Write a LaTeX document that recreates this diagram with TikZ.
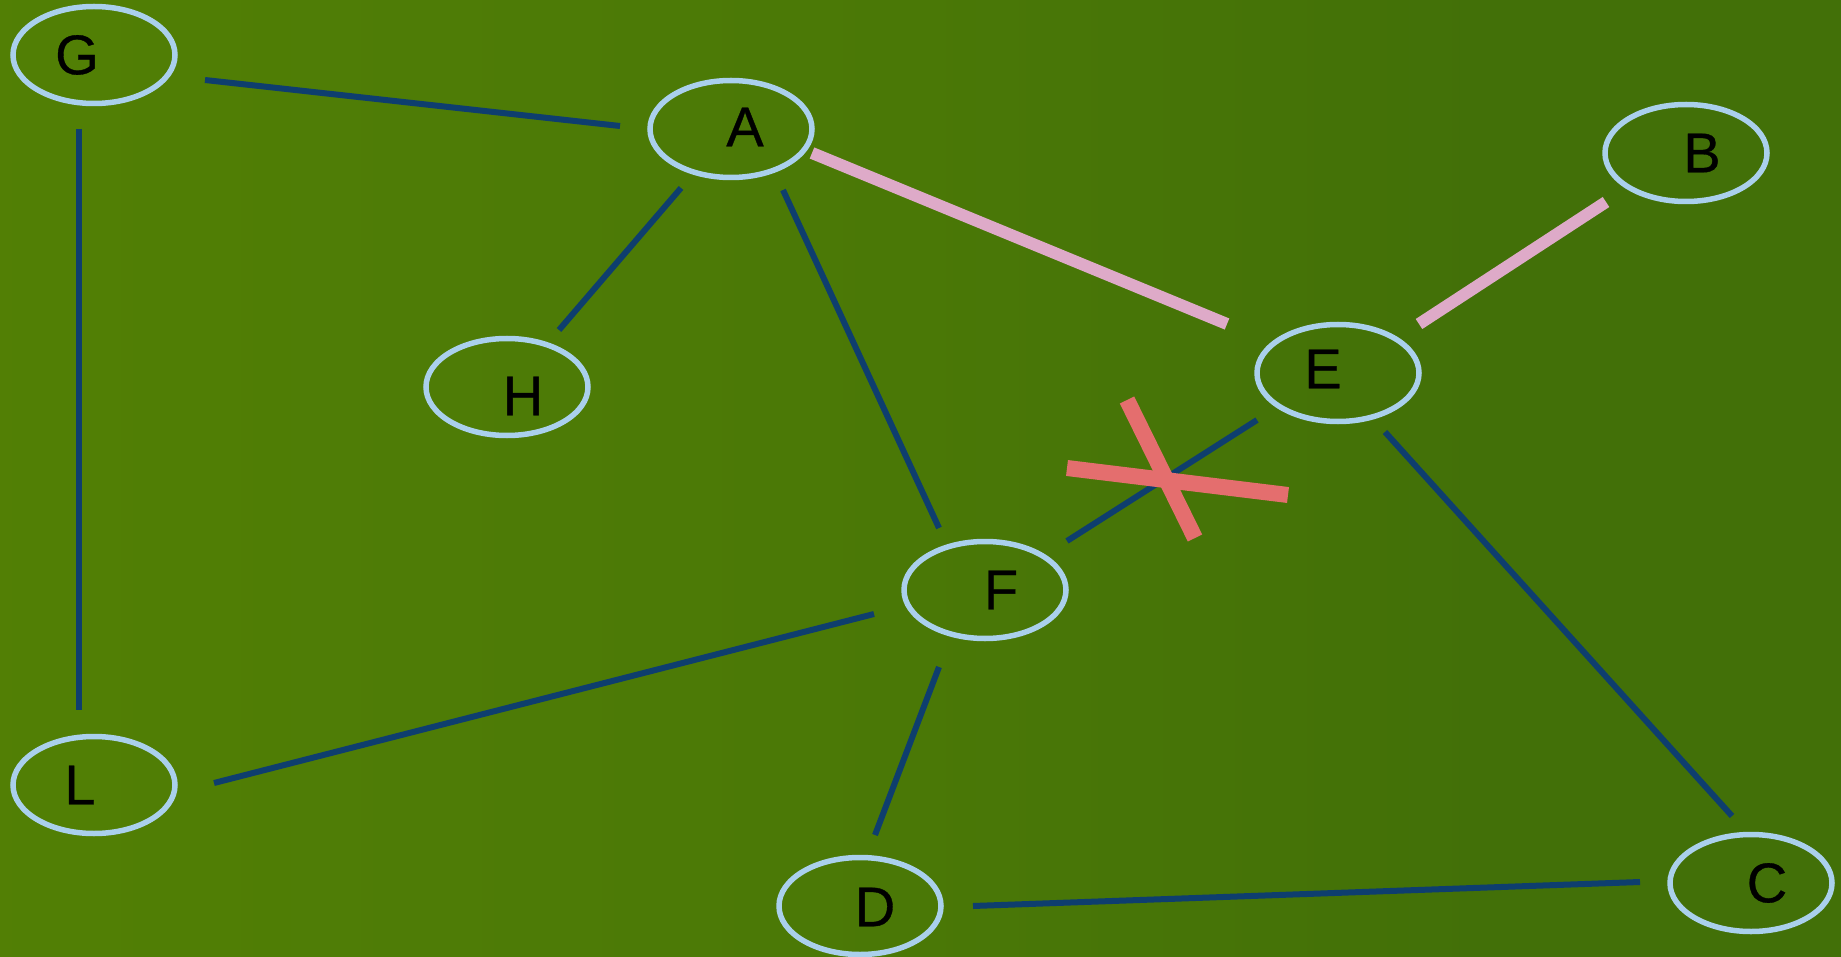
\documentclass[tikz,border=0pt]{standalone}
\usepackage{fontspec}
\setmainfont{Liberation Sans}[FakeBold=0.6]
\usetikzlibrary{calc,shapes.geometric}
\definecolor{ring}{RGB}{170,208,236}
\definecolor{edgeblue}{RGB}{14,62,110}
\definecolor{pinkedge}{RGB}{222,170,200}
\definecolor{crossred}{RGB}{228,110,110}
\pgfdeclarehorizontalshading{bggreen}{100bp}{
  rgb(0bp)=(0.325,0.51,0.02);
  rgb(25bp)=(0.32,0.50,0.02);
  rgb(50bp)=(0.29,0.47,0.025);
  rgb(65bp)=(0.26,0.44,0.03);
  rgb(75bp)=(0.26,0.44,0.03);
  rgb(100bp)=(0.30,0.49,0.025)}
\tikzset{
  vertex/.style={ellipse, draw=ring, line width=5.5pt, minimum width=162pt, minimum height=97pt, inner sep=0pt},
  lbl/.style={font=\fontsize{56}{60}\selectfont, text=black},
  edge/.style={draw=edgeblue, line width=6pt},
  pedge/.style={draw=pinkedge, line width=12pt},
  xmark/.style={draw=crossred, line width=16pt}
}
\begin{document}
\begin{tikzpicture}[x=1pt,y=-1pt]
\useasboundingbox (0,0) rectangle (1841,957);
\shade[shading=bggreen] (0,0) rectangle (1841,957);
% nodes
\node[vertex, label={[lbl,xshift=-17pt]center:G}] (G) at (94,55) {};
\node[vertex, label={[lbl,xshift=14pt,yshift=2pt]center:A}] (A) at (731,129) {};
\node[vertex, label={[lbl,xshift=16pt]center:B}] (B) at (1686,153) {};
\node[vertex, label={[lbl,xshift=16pt,yshift=-9pt]center:H}] (H) at (507,387) {};
\node[vertex, label={[lbl,xshift=-15pt,yshift=4pt]center:E}] (E) at (1338,373) {};
\node[vertex, label={[lbl,xshift=16pt]center:F}] (F) at (985,590) {};
\node[vertex, label={[lbl,xshift=-14pt]center:L}] (L) at (94,785) {};
\node[vertex, label={[lbl,xshift=15pt,yshift=-1pt]center:D}] (D) at (860,906) {};
\node[vertex, label={[lbl,xshift=16pt]center:C}] (C) at (1751,883) {};
% edges
\draw[edge] ($(G)+(111,25)$) -- ($(A)+(-111,-3)$);
\draw[edge] ($(G)+(-15,74)$) -- ($(L)+(-15,-75)$);
\draw[edge] ($(A)+(-50,59)$) -- ($(H)+(52,-57)$);
\draw[edge] ($(A)+(52,61)$) -- ($(F)+(-46,-62)$);
\draw[pedge] ($(A)+(81,24)$) -- ($(E)+(-111,-49)$);
\draw[pedge] ($(B)+(-80,49)$) -- ($(E)+(81,-49)$);
\draw[edge] ($(E)+(-81,47)$) -- ($(F)+(82,-49)$);
\draw[edge] ($(E)+(47,59)$) -- ($(C)+(-19,-67)$);
\draw[edge] ($(F)+(-111,24)$) -- ($(L)+(120,-2)$);
\draw[edge] ($(F)+(-46,77)$) -- ($(D)+(15,-71)$);
\draw[edge] ($(D)+(113,0)$) -- ($(C)+(-111,-1)$);
% cross mark
\draw[xmark] (1127,400) -- (1195,538);
\draw[xmark] (1067,468) -- (1288,495);
\end{tikzpicture}
\end{document}
